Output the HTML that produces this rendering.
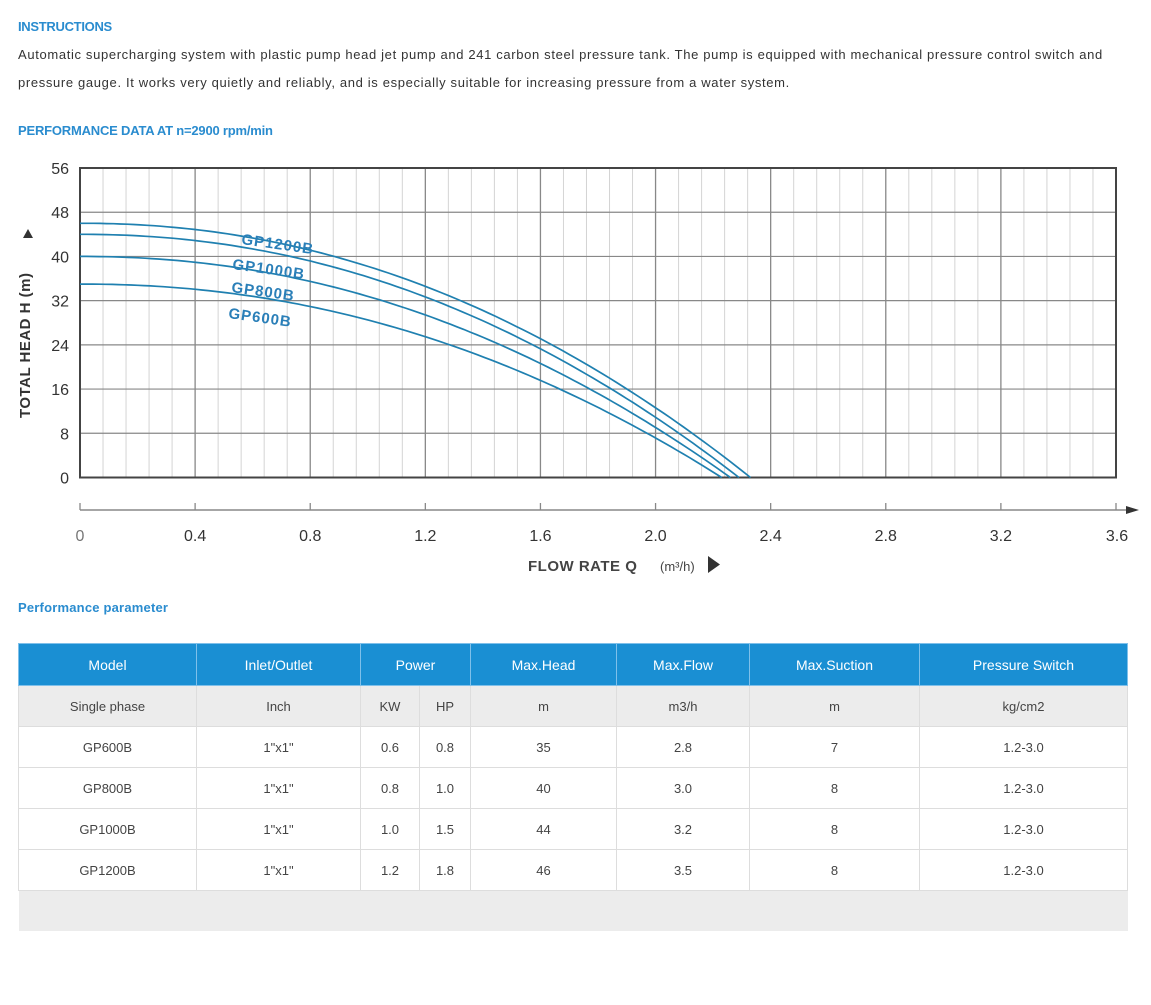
<!DOCTYPE html>
<html><head><meta charset="utf-8"><style>
*{margin:0;padding:0;box-sizing:border-box}
body{width:1151px;height:1005px;background:#fff;font-family:"Liberation Sans",sans-serif;position:relative;overflow:hidden;color:#333}
.t{position:absolute;white-space:nowrap}
.blue{color:#2a8ccf;font-size:13px;font-weight:bold;letter-spacing:-0.3px}
.p{font-size:13px;color:#333;letter-spacing:0.65px}
table{position:absolute;left:18px;top:643px;width:1109px;border-collapse:collapse;font-size:13px;color:#444;table-layout:fixed}
td{height:41px;text-align:center;border:1px solid #ddd;padding:0}
tr.h td{background:#1a8fd3;color:#fff;border-color:#7fc0ea;height:42px;font-size:14px}
tr.g td{background:#ececec}
tr.f td{background:#ececec;border:none;height:40px}
</style></head><body>
<div class="t blue" style="left:18px;top:19px">INSTRUCTIONS</div>
<div class="t p" style="left:18px;top:47px">Automatic supercharging system with plastic pump head jet pump and 241 carbon steel pressure tank. The pump is equipped with mechanical pressure control switch and</div>
<div class="t p" style="left:18px;top:75px">pressure gauge. It works very quietly and reliably, and is especially suitable for increasing pressure from a water system.</div>
<div class="t blue" style="left:18px;top:123px;letter-spacing:-0.2px">PERFORMANCE DATA AT n=2900 rpm/min</div>

<svg width="1151" height="600" style="position:absolute;left:0;top:0" id="ch">
<g id="grid"></g>
<rect x="80" y="168" width="1036" height="309.5" fill="none" stroke="#444" stroke-width="2"/>
<g font-size="16" fill="#333" text-anchor="end" id="yl"></g>
<line x1="80" y1="510" x2="1130" y2="510" stroke="#888" stroke-width="1.5"/>
<polygon points="1139,510 1126,506 1126,514" fill="#333"/>
<g id="xt"></g>
<text x="0" y="0" transform="translate(30,418) rotate(-90)" font-size="15" font-weight="bold" fill="#333" letter-spacing="0.5">TOTAL HEAD H (m)</text>
<polygon points="23,238 33,238 28,229" fill="#333"/>
<text x="528" y="571" font-size="15" font-weight="bold" fill="#444" letter-spacing="0.5">FLOW RATE Q</text>
<text x="660" y="571" font-size="13" fill="#444">(m³/h)</text>
<polygon points="708,556 708,573 720,564.5" fill="#333"/>
<g id="cv" fill="none" stroke="#1f80b0" stroke-width="1.7"></g>
<g font-size="15" font-weight="bold" fill="#2a7fb8" letter-spacing="1">
<text transform="translate(241,244) rotate(8)">GP1200B</text>
<text transform="translate(232,269) rotate(8)">GP1000B</text>
<text transform="translate(231,292) rotate(8)">GP800B</text>
<text transform="translate(228,318) rotate(8)">GP600B</text>
</g>
</svg>

<div class="t blue" style="left:18px;top:600px;font-size:13px;letter-spacing:0.2px">Performance parameter</div>

<table>
<colgroup><col style="width:178px"><col style="width:164px"><col style="width:59px"><col style="width:51px"><col style="width:146px"><col style="width:133px"><col style="width:170px"><col style="width:208px"></colgroup>
<tr class="h"><td>Model</td><td>Inlet/Outlet</td><td colspan="2">Power</td><td>Max.Head</td><td>Max.Flow</td><td>Max.Suction</td><td>Pressure Switch</td></tr>
<tr class="g"><td>Single phase</td><td>Inch</td><td>KW</td><td>HP</td><td>m</td><td>m3/h</td><td>m</td><td>kg/cm2</td></tr>
<tr><td>GP600B</td><td>1"x1"</td><td>0.6</td><td>0.8</td><td>35</td><td>2.8</td><td>7</td><td>1.2-3.0</td></tr>
<tr><td>GP800B</td><td>1"x1"</td><td>0.8</td><td>1.0</td><td>40</td><td>3.0</td><td>8</td><td>1.2-3.0</td></tr>
<tr><td>GP1000B</td><td>1"x1"</td><td>1.0</td><td>1.5</td><td>44</td><td>3.2</td><td>8</td><td>1.2-3.0</td></tr>
<tr><td>GP1200B</td><td>1"x1"</td><td>1.2</td><td>1.8</td><td>46</td><td>3.5</td><td>8</td><td>1.2-3.0</td></tr>
<tr class="f"><td colspan="8"></td></tr>
</table>

<script>
var ns="http://www.w3.org/2000/svg";
function el(p,t,a,txt){var e=document.createElementNS(ns,t);for(var k in a)e.setAttribute(k,a[k]);if(txt)e.textContent=txt;p.appendChild(e);return e;}
var X0=80,W=1036,Y0=477.5,H=309.5,ppu=W/3.6;
var g=document.getElementById('grid');
for(var i=1;i<45;i++){var x=X0+i*0.08*ppu;el(g,'line',{x1:x,y1:168,x2:x,y2:Y0,stroke:i%5==0?'#888':'#d4d4d4','stroke-width':i%5==0?1.3:1});}
for(var j=1;j<7;j++){var y=Y0-j*H/7;el(g,'line',{x1:X0,y1:y,x2:X0+W,y2:y,stroke:'#888','stroke-width':1.2});}
var yl=document.getElementById('yl');
for(var j=0;j<=7;j++){el(yl,'text',{x:69,y:Y0-j*H/7+6},String(j*8));}
var xt=document.getElementById('xt');
var labs=['0','0.4','0.8','1.2','1.6','2.0','2.4','2.8','3.2','3.6'];
for(var i=0;i<=9;i++){var x=X0+i*0.4*ppu;el(xt,'line',{x1:x,y1:503,x2:x,y2:510,stroke:'#888','stroke-width':1.3});
el(xt,'text',{x:x+(i==9?1:0),y:541,'font-size':16,fill:i==0?'#777':'#333','text-anchor':'middle'},labs[i]);}
var cv=document.getElementById('cv');
[[46,2.33],[44,2.29],[40,2.26],[35,2.23]].forEach(function(c){var d='';
for(var k=0;k<=100;k++){var q=c[1]*k/100,h=c[0]*(1-Math.pow(q/c[1],2.1));
d+=(k?'L':'M')+(X0+q*ppu).toFixed(1)+' '+(Y0-h*H/56).toFixed(1);}
el(cv,'path',{d:d});});
</script>
</body></html>
